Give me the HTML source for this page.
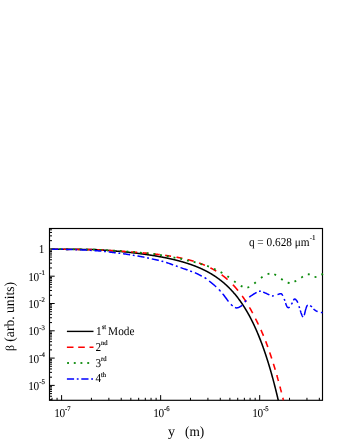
<!DOCTYPE html>
<html><head><meta charset="utf-8"><style>
html,body{margin:0;padding:0;background:#fff;}
svg{display:block;will-change:transform;text-rendering:geometricPrecision;font-family:"Liberation Serif",serif;font-size:12px;fill:#000;}
</style></head><body>
<svg width="340" height="440" viewBox="0 0 340 440">
<rect x="0" y="0" width="340" height="440" fill="#fff"/>
<rect x="49.50" y="228.50" width="273.00" height="171.80" fill="none" stroke="#000" stroke-width="1.15"/>
<g stroke="#000" stroke-width="1"><line x1="49.50" y1="399.67" x2="52.00" y2="399.67"/><line x1="49.50" y1="396.26" x2="52.00" y2="396.26"/><line x1="49.50" y1="393.62" x2="52.00" y2="393.62"/><line x1="49.50" y1="391.46" x2="52.00" y2="391.46"/><line x1="49.50" y1="389.63" x2="52.00" y2="389.63"/><line x1="49.50" y1="388.05" x2="52.00" y2="388.05"/><line x1="49.50" y1="386.65" x2="52.00" y2="386.65"/><line x1="49.50" y1="385.40" x2="54.70" y2="385.40"/><line x1="49.50" y1="377.18" x2="52.00" y2="377.18"/><line x1="49.50" y1="372.37" x2="52.00" y2="372.37"/><line x1="49.50" y1="368.96" x2="52.00" y2="368.96"/><line x1="49.50" y1="366.32" x2="52.00" y2="366.32"/><line x1="49.50" y1="364.16" x2="52.00" y2="364.16"/><line x1="49.50" y1="362.33" x2="52.00" y2="362.33"/><line x1="49.50" y1="360.75" x2="52.00" y2="360.75"/><line x1="49.50" y1="359.35" x2="52.00" y2="359.35"/><line x1="49.50" y1="358.10" x2="54.70" y2="358.10"/><line x1="49.50" y1="349.88" x2="52.00" y2="349.88"/><line x1="49.50" y1="345.07" x2="52.00" y2="345.07"/><line x1="49.50" y1="341.66" x2="52.00" y2="341.66"/><line x1="49.50" y1="339.02" x2="52.00" y2="339.02"/><line x1="49.50" y1="336.86" x2="52.00" y2="336.86"/><line x1="49.50" y1="335.03" x2="52.00" y2="335.03"/><line x1="49.50" y1="333.45" x2="52.00" y2="333.45"/><line x1="49.50" y1="332.05" x2="52.00" y2="332.05"/><line x1="49.50" y1="330.80" x2="54.70" y2="330.80"/><line x1="49.50" y1="322.58" x2="52.00" y2="322.58"/><line x1="49.50" y1="317.77" x2="52.00" y2="317.77"/><line x1="49.50" y1="314.36" x2="52.00" y2="314.36"/><line x1="49.50" y1="311.72" x2="52.00" y2="311.72"/><line x1="49.50" y1="309.56" x2="52.00" y2="309.56"/><line x1="49.50" y1="307.73" x2="52.00" y2="307.73"/><line x1="49.50" y1="306.15" x2="52.00" y2="306.15"/><line x1="49.50" y1="304.75" x2="52.00" y2="304.75"/><line x1="49.50" y1="303.50" x2="54.70" y2="303.50"/><line x1="49.50" y1="295.28" x2="52.00" y2="295.28"/><line x1="49.50" y1="290.47" x2="52.00" y2="290.47"/><line x1="49.50" y1="287.06" x2="52.00" y2="287.06"/><line x1="49.50" y1="284.42" x2="52.00" y2="284.42"/><line x1="49.50" y1="282.26" x2="52.00" y2="282.26"/><line x1="49.50" y1="280.43" x2="52.00" y2="280.43"/><line x1="49.50" y1="278.85" x2="52.00" y2="278.85"/><line x1="49.50" y1="277.45" x2="52.00" y2="277.45"/><line x1="49.50" y1="276.20" x2="54.70" y2="276.20"/><line x1="49.50" y1="267.98" x2="52.00" y2="267.98"/><line x1="49.50" y1="263.17" x2="52.00" y2="263.17"/><line x1="49.50" y1="259.76" x2="52.00" y2="259.76"/><line x1="49.50" y1="257.12" x2="52.00" y2="257.12"/><line x1="49.50" y1="254.96" x2="52.00" y2="254.96"/><line x1="49.50" y1="253.13" x2="52.00" y2="253.13"/><line x1="49.50" y1="251.55" x2="52.00" y2="251.55"/><line x1="49.50" y1="250.15" x2="52.00" y2="250.15"/><line x1="49.50" y1="248.90" x2="54.70" y2="248.90"/><line x1="49.50" y1="240.68" x2="52.00" y2="240.68"/><line x1="49.50" y1="235.87" x2="52.00" y2="235.87"/><line x1="49.50" y1="232.46" x2="52.00" y2="232.46"/><line x1="49.50" y1="229.82" x2="52.00" y2="229.82"/><line x1="52.00" y1="400.30" x2="52.00" y2="397.80"/><line x1="57.07" y1="400.30" x2="57.07" y2="397.80"/><line x1="61.60" y1="400.30" x2="61.60" y2="395.10"/><line x1="91.42" y1="400.30" x2="91.42" y2="397.80"/><line x1="108.86" y1="400.30" x2="108.86" y2="397.80"/><line x1="121.23" y1="400.30" x2="121.23" y2="397.80"/><line x1="130.83" y1="400.30" x2="130.83" y2="397.80"/><line x1="138.68" y1="400.30" x2="138.68" y2="397.80"/><line x1="145.31" y1="400.30" x2="145.31" y2="397.80"/><line x1="151.05" y1="400.30" x2="151.05" y2="397.80"/><line x1="156.12" y1="400.30" x2="156.12" y2="397.80"/><line x1="160.65" y1="400.30" x2="160.65" y2="395.10"/><line x1="190.47" y1="400.30" x2="190.47" y2="397.80"/><line x1="207.91" y1="400.30" x2="207.91" y2="397.80"/><line x1="220.28" y1="400.30" x2="220.28" y2="397.80"/><line x1="229.88" y1="400.30" x2="229.88" y2="397.80"/><line x1="237.73" y1="400.30" x2="237.73" y2="397.80"/><line x1="244.36" y1="400.30" x2="244.36" y2="397.80"/><line x1="250.10" y1="400.30" x2="250.10" y2="397.80"/><line x1="255.17" y1="400.30" x2="255.17" y2="397.80"/><line x1="259.70" y1="400.30" x2="259.70" y2="395.10"/><line x1="289.52" y1="400.30" x2="289.52" y2="397.80"/><line x1="306.96" y1="400.30" x2="306.96" y2="397.80"/><line x1="319.33" y1="400.30" x2="319.33" y2="397.80"/></g>
<g fill="none" stroke-linecap="butt" stroke-linejoin="round">
<path d="M51.60,249.14 L51.65,249.14 L51.85,249.14 L52.05,249.14 L52.25,249.15 L52.45,249.15 L52.65,249.15 L52.85,249.15 L53.05,249.15 L53.25,249.15 L53.45,249.15 L53.65,249.15 L53.85,249.16 L54.05,249.16 L54.25,249.16 L54.45,249.16 L54.65,249.16 L54.85,249.16 L55.05,249.16 L55.25,249.16 L55.45,249.17 L55.65,249.17 L55.85,249.17 L56.05,249.17 L56.25,249.17 L56.45,249.17 L56.65,249.17 L56.85,249.17 L57.05,249.18 L57.25,249.18 L57.45,249.18 L57.65,249.18 L57.85,249.18 L58.05,249.18 L58.25,249.18 L58.45,249.18 L58.65,249.19 L58.85,249.19 L59.05,249.19 L59.25,249.19 L59.45,249.19 L59.65,249.19 L59.85,249.19 L60.05,249.19 L60.25,249.20 L60.45,249.20 L60.65,249.20 L60.85,249.20 L61.05,249.20 L61.25,249.20 L61.45,249.20 L61.65,249.21 L61.85,249.21 L62.05,249.21 L62.25,249.21 L62.45,249.21 L62.65,249.21 L62.85,249.21 L63.05,249.22 L63.25,249.22 L63.45,249.22 L63.65,249.22 L63.85,249.22 L64.05,249.22 L64.25,249.23 L64.45,249.23 L64.65,249.23 L64.85,249.23 L65.05,249.23 L65.25,249.23 L65.45,249.23 L65.65,249.24 L65.85,249.24 L66.05,249.24 L66.25,249.24 L66.45,249.24 L66.65,249.24 L66.85,249.25 L67.05,249.25 L67.25,249.25 L67.45,249.25 L67.65,249.25 L67.85,249.25 L68.05,249.26 L68.25,249.26 L68.45,249.26 L68.65,249.26 L68.85,249.26 L69.05,249.26 L69.25,249.27 L69.45,249.27 L69.65,249.27 L69.85,249.27 L70.05,249.27 L70.25,249.27 L70.45,249.28 L70.65,249.28 L70.85,249.28 L71.05,249.28 L71.25,249.28 L71.45,249.28 L71.65,249.29 L71.85,249.29 L72.05,249.29 L72.25,249.29 L72.45,249.29 L72.65,249.30 L72.85,249.30 L73.05,249.30 L73.25,249.30 L73.45,249.30 L73.65,249.30 L73.85,249.31 L74.05,249.31 L74.25,249.31 L74.45,249.31 L74.65,249.31 L74.85,249.32 L75.05,249.32 L75.25,249.32 L75.45,249.32 L75.65,249.32 L75.85,249.33 L76.05,249.33 L76.25,249.33 L76.45,249.33 L76.65,249.33 L76.85,249.34 L77.05,249.34 L77.25,249.34 L77.45,249.34 L77.65,249.34 L77.85,249.35 L78.05,249.35 L78.25,249.35 L78.45,249.35 L78.65,249.35 L78.85,249.36 L79.05,249.36 L79.25,249.36 L79.45,249.36 L79.65,249.37 L79.85,249.37 L80.05,249.37 L80.25,249.37 L80.45,249.37 L80.65,249.38 L80.85,249.38 L81.05,249.38 L81.25,249.38 L81.45,249.39 L81.65,249.39 L81.85,249.39 L82.05,249.39 L82.25,249.39 L82.45,249.40 L82.65,249.40 L82.85,249.40 L83.05,249.40 L83.25,249.41 L83.45,249.41 L83.65,249.41 L83.85,249.41 L84.05,249.42 L84.25,249.42 L84.45,249.42 L84.65,249.42 L84.85,249.42 L85.05,249.43 L85.25,249.43 L85.45,249.43 L85.65,249.43 L85.85,249.44 L86.05,249.44 L86.25,249.44 L86.45,249.44 L86.65,249.45 L86.85,249.45 L87.05,249.45 L87.25,249.46 L87.45,249.46 L87.65,249.46 L87.85,249.46 L88.05,249.47 L88.25,249.47 L88.45,249.47 L88.65,249.47 L88.85,249.48 L89.05,249.48 L89.25,249.48 L89.45,249.48 L89.65,249.49 L89.85,249.49 L90.05,249.49 L90.25,249.50 L90.45,249.50 L90.65,249.50 L90.85,249.50 L91.05,249.51 L91.25,249.51 L91.45,249.51 L91.65,249.51 L91.85,249.52 L92.05,249.52 L92.25,249.52 L92.45,249.53 L92.65,249.53 L92.85,249.53 L93.05,249.54 L93.25,249.54 L93.45,249.54 L93.65,249.54 L93.85,249.55 L94.05,249.55 L94.25,249.55 L94.45,249.56 L94.65,249.56 L94.85,249.56 L95.05,249.57 L95.25,249.58 L95.45,249.59 L95.65,249.60 L95.85,249.62 L96.05,249.63 L96.25,249.64 L96.45,249.65 L96.65,249.66 L96.85,249.68 L97.05,249.69 L97.25,249.70 L97.45,249.71 L97.65,249.73 L97.85,249.74 L98.05,249.75 L98.25,249.76 L98.45,249.78 L98.65,249.79 L98.85,249.80 L99.05,249.81 L99.25,249.83 L99.45,249.84 L99.65,249.85 L99.85,249.87 L100.05,249.88 L100.25,249.89 L100.45,249.91 L100.65,249.92 L100.85,249.93 L101.05,249.95 L101.25,249.96 L101.45,249.97 L101.65,249.99 L101.85,250.00 L102.05,250.01 L102.25,250.03 L102.45,250.04 L102.65,250.05 L102.85,250.07 L103.05,250.08 L103.25,250.09 L103.45,250.11 L103.65,250.12 L103.85,250.14 L104.05,250.15 L104.25,250.16 L104.45,250.18 L104.65,250.19 L104.85,250.21 L105.05,250.22 L105.25,250.24 L105.45,250.25 L105.65,250.26 L105.85,250.28 L106.05,250.29 L106.25,250.31 L106.45,250.32 L106.65,250.34 L106.85,250.35 L107.05,250.37 L107.25,250.38 L107.45,250.40 L107.65,250.41 L107.85,250.43 L108.05,250.44 L108.25,250.46 L108.45,250.47 L108.65,250.49 L108.85,250.50 L109.05,250.52 L109.25,250.53 L109.45,250.55 L109.65,250.56 L109.85,250.58 L110.05,250.60 L110.25,250.61 L110.45,250.63 L110.65,250.64 L110.85,250.66 L111.05,250.67 L111.25,250.69 L111.45,250.71 L111.65,250.72 L111.85,250.74 L112.05,250.75 L112.25,250.77 L112.45,250.79 L112.65,250.80 L112.85,250.82 L113.05,250.84 L113.25,250.85 L113.45,250.87 L113.65,250.89 L113.85,250.90 L114.05,250.92 L114.25,250.94 L114.45,250.95 L114.65,250.97 L114.85,250.99 L115.05,251.00 L115.25,251.02 L115.45,251.04 L115.65,251.06 L115.85,251.07 L116.05,251.09 L116.25,251.11 L116.45,251.12 L116.65,251.14 L116.85,251.16 L117.05,251.18 L117.25,251.19 L117.45,251.21 L117.65,251.23 L117.85,251.25 L118.05,251.27 L118.25,251.28 L118.45,251.30 L118.65,251.32 L118.85,251.34 L119.05,251.36 L119.25,251.37 L119.45,251.39 L119.65,251.41 L119.85,251.43 L120.05,251.45 L120.25,251.47 L120.45,251.49 L120.65,251.50 L120.85,251.52 L121.05,251.54 L121.25,251.56 L121.45,251.58 L121.65,251.60 L121.85,251.62 L122.05,251.64 L122.25,251.66 L122.45,251.68 L122.65,251.70 L122.85,251.71 L123.05,251.73 L123.25,251.75 L123.45,251.77 L123.65,251.79 L123.85,251.81 L124.05,251.83 L124.25,251.85 L124.45,251.87 L124.65,251.89 L124.85,251.91 L125.05,251.93 L125.25,251.95 L125.45,251.97 L125.65,251.99 L125.85,252.01 L126.05,252.03 L126.25,252.05 L126.45,252.08 L126.65,252.10 L126.85,252.12 L127.05,252.14 L127.25,252.16 L127.45,252.18 L127.65,252.20 L127.85,252.22 L128.05,252.24 L128.25,252.26 L128.45,252.28 L128.65,252.31 L128.85,252.33 L129.05,252.35 L129.25,252.37 L129.45,252.39 L129.65,252.41 L129.85,252.44 L130.05,252.46 L130.25,252.48 L130.45,252.50 L130.65,252.52 L130.85,252.55 L131.05,252.57 L131.25,252.59 L131.45,252.61 L131.65,252.64 L131.85,252.66 L132.05,252.68 L132.25,252.70 L132.45,252.73 L132.65,252.75 L132.85,252.77 L133.05,252.79 L133.25,252.82 L133.45,252.84 L133.65,252.86 L133.85,252.89 L134.05,252.91 L134.25,252.93 L134.45,252.96 L134.65,252.98 L134.85,253.00 L135.05,253.03 L135.25,253.05 L135.45,253.08 L135.65,253.10 L135.85,253.12 L136.05,253.15 L136.25,253.17 L136.45,253.20 L136.65,253.22 L136.85,253.25 L137.05,253.27 L137.25,253.29 L137.45,253.32 L137.65,253.34 L137.85,253.37 L138.05,253.39 L138.25,253.42 L138.45,253.44 L138.65,253.47 L138.85,253.49 L139.05,253.52 L139.25,253.55 L139.45,253.57 L139.65,253.60 L139.85,253.62 L140.05,253.65 L140.25,253.67 L140.45,253.70 L140.65,253.73 L140.85,253.75 L141.05,253.78 L141.25,253.80 L141.45,253.83 L141.65,253.86 L141.85,253.88 L142.05,253.91 L142.25,253.94 L142.45,253.96 L142.65,253.99 L142.85,254.02 L143.05,254.04 L143.25,254.07 L143.45,254.10 L143.65,254.13 L143.85,254.15 L144.05,254.18 L144.25,254.21 L144.45,254.24 L144.65,254.26 L144.85,254.29 L145.05,254.32 L145.25,254.35 L145.45,254.38 L145.65,254.41 L145.85,254.43 L146.05,254.46 L146.25,254.49 L146.45,254.52 L146.65,254.55 L146.85,254.58 L147.05,254.61 L147.25,254.64 L147.45,254.66 L147.65,254.69 L147.85,254.72 L148.05,254.75 L148.25,254.78 L148.45,254.81 L148.65,254.84 L148.85,254.87 L149.05,254.90 L149.25,254.93 L149.45,254.96 L149.65,254.99 L149.85,255.02 L150.05,255.05 L150.25,255.08 L150.45,255.11 L150.65,255.15 L150.85,255.18 L151.05,255.21 L151.25,255.24 L151.45,255.27 L151.65,255.30 L151.85,255.33 L152.05,255.36 L152.25,255.40 L152.45,255.43 L152.65,255.46 L152.85,255.49 L153.05,255.52 L153.25,255.56 L153.45,255.59 L153.65,255.62 L153.85,255.65 L154.05,255.69 L154.25,255.72 L154.45,255.75 L154.65,255.79 L154.85,255.82 L155.05,255.85 L155.25,255.89 L155.45,255.92 L155.65,255.95 L155.85,255.99 L156.05,256.02 L156.25,256.05 L156.45,256.09 L156.65,256.12 L156.85,256.16 L157.05,256.19 L157.25,256.23 L157.45,256.26 L157.65,256.30 L157.85,256.33 L158.05,256.37 L158.25,256.40 L158.45,256.44 L158.65,256.47 L158.85,256.51 L159.05,256.54 L159.25,256.58 L159.45,256.62 L159.65,256.65 L159.85,256.69 L160.05,256.72 L160.25,256.76 L160.45,256.80 L160.65,256.83 L160.85,256.87 L161.05,256.91 L161.25,256.95 L161.45,256.98 L161.65,257.02 L161.85,257.06 L162.05,257.10 L162.25,257.13 L162.45,257.17 L162.65,257.21 L162.85,257.25 L163.05,257.29 L163.25,257.33 L163.45,257.37 L163.65,257.40 L163.85,257.44 L164.05,257.48 L164.25,257.52 L164.45,257.56 L164.65,257.60 L164.85,257.64 L165.05,257.68 L165.25,257.72 L165.45,257.76 L165.65,257.80 L165.85,257.84 L166.05,257.88 L166.25,257.92 L166.45,257.97 L166.65,258.01 L166.85,258.05 L167.05,258.09 L167.25,258.13 L167.45,258.17 L167.65,258.22 L167.85,258.26 L168.05,258.30 L168.25,258.34 L168.45,258.39 L168.65,258.43 L168.85,258.47 L169.05,258.52 L169.25,258.56 L169.45,258.60 L169.65,258.65 L169.85,258.69 L170.05,258.73 L170.25,258.78 L170.45,258.82 L170.65,258.87 L170.85,258.91 L171.05,258.96 L171.25,259.00 L171.45,259.05 L171.65,259.09 L171.85,259.14 L172.05,259.19 L172.25,259.23 L172.45,259.28 L172.65,259.32 L172.85,259.37 L173.05,259.42 L173.25,259.46 L173.45,259.51 L173.65,259.56 L173.85,259.61 L174.05,259.66 L174.25,259.70 L174.45,259.75 L174.65,259.80 L174.85,259.85 L175.05,259.90 L175.25,259.95 L175.45,260.00 L175.65,260.05 L175.85,260.10 L176.05,260.15 L176.25,260.20 L176.45,260.25 L176.65,260.30 L176.85,260.35 L177.05,260.40 L177.25,260.45 L177.45,260.50 L177.65,260.55 L177.85,260.60 L178.05,260.66 L178.25,260.71 L178.45,260.76 L178.65,260.81 L178.85,260.87 L179.05,260.92 L179.25,260.97 L179.45,261.03 L179.65,261.08 L179.85,261.14 L180.05,261.19 L180.25,261.24 L180.45,261.30 L180.65,261.35 L180.85,261.41 L181.05,261.47 L181.25,261.52 L181.45,261.58 L181.65,261.63 L181.85,261.69 L182.05,261.75 L182.25,261.80 L182.45,261.86 L182.65,261.92 L182.85,261.98 L183.05,262.04 L183.25,262.09 L183.45,262.15 L183.65,262.21 L183.85,262.27 L184.05,262.33 L184.25,262.39 L184.45,262.45 L184.65,262.51 L184.85,262.57 L185.05,262.63 L185.25,262.69 L185.45,262.75 L185.65,262.82 L185.85,262.88 L186.05,262.94 L186.25,263.00 L186.45,263.07 L186.65,263.13 L186.85,263.19 L187.05,263.26 L187.25,263.32 L187.45,263.38 L187.65,263.45 L187.85,263.51 L188.05,263.58 L188.25,263.64 L188.45,263.71 L188.65,263.78 L188.85,263.84 L189.05,263.91 L189.25,263.98 L189.45,264.04 L189.65,264.11 L189.85,264.18 L190.05,264.25 L190.25,264.32 L190.45,264.39 L190.65,264.46 L190.85,264.53 L191.05,264.60 L191.25,264.67 L191.45,264.74 L191.65,264.81 L191.85,264.88 L192.05,264.95 L192.25,265.02 L192.45,265.10 L192.65,265.17 L192.85,265.24 L193.05,265.32 L193.25,265.39 L193.45,265.46 L193.65,265.54 L193.85,265.61 L194.05,265.69 L194.25,265.77 L194.45,265.84 L194.65,265.92 L194.85,266.00 L195.05,266.07 L195.25,266.15 L195.45,266.23 L195.65,266.31 L195.85,266.39 L196.05,266.47 L196.25,266.55 L196.45,266.63 L196.65,266.71 L196.85,266.79 L197.05,266.87 L197.25,266.95 L197.45,267.03 L197.65,267.11 L197.85,267.20 L198.05,267.28 L198.25,267.37 L198.45,267.45 L198.65,267.53 L198.85,267.62 L199.05,267.71 L199.25,267.79 L199.45,267.88 L199.65,267.96 L199.85,268.05 L200.05,268.14 L200.25,268.23 L200.45,268.32 L200.65,268.41 L200.85,268.50 L201.05,268.59 L201.25,268.68 L201.45,268.77 L201.65,268.86 L201.85,268.95 L202.05,269.04 L202.25,269.14 L202.45,269.23 L202.65,269.33 L202.85,269.42 L203.05,269.52 L203.25,269.61 L203.45,269.71 L203.65,269.80 L203.85,269.90 L204.05,270.00 L204.25,270.10 L204.45,270.20 L204.65,270.29 L204.85,270.39 L205.05,270.49 L205.25,270.60 L205.45,270.70 L205.65,270.80 L205.85,270.90 L206.05,271.00 L206.25,271.11 L206.45,271.21 L206.65,271.32 L206.85,271.42 L207.05,271.53 L207.25,271.64 L207.45,271.74 L207.65,271.85 L207.85,271.96 L208.05,272.07 L208.25,272.18 L208.45,272.29 L208.65,272.40 L208.85,272.51 L209.05,272.62 L209.25,272.73 L209.45,272.85 L209.65,272.96 L209.85,273.07 L210.05,273.19 L210.25,273.31 L210.45,273.42 L210.65,273.54 L210.85,273.66 L211.05,273.77 L211.25,273.89 L211.45,274.01 L211.65,274.13 L211.85,274.25 L212.05,274.38 L212.25,274.50 L212.45,274.62 L212.65,274.75 L212.85,274.87 L213.05,274.99 L213.25,275.12 L213.45,275.25 L213.65,275.37 L213.85,275.50 L214.05,275.63 L214.25,275.76 L214.45,275.89 L214.65,276.02 L214.85,276.15 L215.05,276.29 L215.25,276.42 L215.45,276.55 L215.65,276.69 L215.85,276.82 L216.05,276.96 L216.25,277.10 L216.45,277.23 L216.65,277.37 L216.85,277.51 L217.05,277.65 L217.25,277.79 L217.45,277.94 L217.65,278.08 L217.85,278.22 L218.05,278.37 L218.25,278.51 L218.45,278.66 L218.65,278.80 L218.85,278.95 L219.05,279.10 L219.25,279.25 L219.45,279.40 L219.65,279.55 L219.85,279.70 L220.05,279.86 L220.25,280.01 L220.45,280.17 L220.65,280.32 L220.85,280.48 L221.05,280.64 L221.25,280.79 L221.45,280.95 L221.65,281.11 L221.85,281.27 L222.05,281.44 L222.25,281.60 L222.45,281.76 L222.65,281.93 L222.85,282.09 L223.05,282.26 L223.25,282.43 L223.45,282.60 L223.65,282.77 L223.85,282.94 L224.05,283.11 L224.25,283.28 L224.45,283.46 L224.65,283.63 L224.85,283.81 L225.05,283.99 L225.25,284.17 L225.45,284.34 L225.65,284.52 L225.85,284.71 L226.05,284.89 L226.25,285.07 L226.45,285.26 L226.65,285.44 L226.85,285.63 L227.05,285.82 L227.25,286.01 L227.45,286.20 L227.65,286.39 L227.85,286.58 L228.05,286.77 L228.25,286.97 L228.45,287.17 L228.65,287.36 L228.85,287.56 L229.05,287.76 L229.25,287.96 L229.45,288.16 L229.65,288.37 L229.85,288.57 L230.05,288.78 L230.25,288.98 L230.45,289.19 L230.65,289.40 L230.85,289.61 L231.05,289.82 L231.25,290.04 L231.45,290.25 L231.65,290.47 L231.85,290.68 L232.05,290.90 L232.25,291.12 L232.45,291.34 L232.65,291.56 L232.85,291.79 L233.05,292.01 L233.25,292.24 L233.45,292.47 L233.65,292.70 L233.85,292.93 L234.05,293.16 L234.25,293.39 L234.45,293.63 L234.65,293.86 L234.85,294.10 L235.05,294.34 L235.25,294.58 L235.45,294.82 L235.65,295.06 L235.85,295.31 L236.05,295.55 L236.25,295.80 L236.45,296.05 L236.65,296.30 L236.85,296.56 L237.05,296.81 L237.25,297.06 L237.45,297.32 L237.65,297.58 L237.85,297.84 L238.05,298.10 L238.25,298.36 L238.45,298.63 L238.65,298.90 L238.85,299.16 L239.05,299.43 L239.25,299.70 L239.45,299.98 L239.65,300.25 L239.85,300.53 L240.05,300.81 L240.25,301.09 L240.45,301.37 L240.65,301.65 L240.85,301.94 L241.05,302.22 L241.25,302.51 L241.45,302.80 L241.65,303.09 L241.85,303.39 L242.05,303.68 L242.25,303.98 L242.45,304.28 L242.65,304.58 L242.85,304.88 L243.05,305.19 L243.25,305.49 L243.45,305.80 L243.65,306.11 L243.85,306.42 L244.05,306.74 L244.25,307.05 L244.45,307.37 L244.65,307.69 L244.85,308.01 L245.05,308.33 L245.25,308.66 L245.45,308.99 L245.65,309.32 L245.85,309.65 L246.05,309.98 L246.25,310.32 L246.45,310.65 L246.65,310.99 L246.85,311.33 L247.05,311.68 L247.25,312.02 L247.45,312.37 L247.65,312.72 L247.85,313.07 L248.05,313.43 L248.25,313.78 L248.45,314.14 L248.65,314.50 L248.85,314.87 L249.05,315.23 L249.25,315.60 L249.45,315.97 L249.65,316.34 L249.85,316.71 L250.05,317.09 L250.25,317.47 L250.45,317.85 L250.65,318.23 L250.85,318.62 L251.05,319.01 L251.25,319.40 L251.45,319.79 L251.65,320.18 L251.85,320.58 L252.05,320.98 L252.25,321.38 L252.45,321.79 L252.65,322.19 L252.85,322.60 L253.05,323.01 L253.25,323.43 L253.45,323.85 L253.65,324.27 L253.85,324.69 L254.05,325.11 L254.25,325.54 L254.45,325.97 L254.65,326.40 L254.85,326.84 L255.05,327.27 L255.25,327.71 L255.45,328.16 L255.65,328.60 L255.85,329.05 L256.05,329.50 L256.25,329.95 L256.45,330.41 L256.65,330.87 L256.85,331.33 L257.05,331.79 L257.25,332.26 L257.45,332.73 L257.65,333.20 L257.85,333.68 L258.05,334.16 L258.25,334.64 L258.45,335.12 L258.65,335.61 L258.85,336.10 L259.05,336.59 L259.25,337.09 L259.45,337.59 L259.65,338.09 L259.85,338.59 L260.05,339.10 L260.25,339.61 L260.45,340.13 L260.65,340.64 L260.85,341.16 L261.05,341.69 L261.25,342.21 L261.45,342.74 L261.65,343.27 L261.85,343.81 L262.05,344.35 L262.25,344.89 L262.45,345.43 L262.65,345.98 L262.85,346.53 L263.05,347.09 L263.25,347.65 L263.45,348.21 L263.65,348.77 L263.85,349.34 L264.05,349.91 L264.25,350.49 L264.45,351.07 L264.65,351.65 L264.85,352.23 L265.05,352.82 L265.25,353.41 L265.45,354.01 L265.65,354.61 L265.85,355.21 L266.05,355.81 L266.25,356.42 L266.45,357.04 L266.65,357.65 L266.85,358.27 L267.05,358.90 L267.25,359.52 L267.45,360.16 L267.65,360.79 L267.85,361.43 L268.05,362.07 L268.25,362.72 L268.45,363.37 L268.65,364.02 L268.85,364.68 L269.05,365.34 L269.25,366.00 L269.45,366.67 L269.65,367.34 L269.85,368.02 L270.05,368.70 L270.25,369.38 L270.45,370.07 L270.65,370.76 L270.85,371.46 L271.05,372.16 L271.25,372.86 L271.45,373.57 L271.65,374.28 L271.85,375.00 L272.05,375.72 L272.25,376.45 L272.45,377.17 L272.65,377.91 L272.85,378.64 L273.05,379.39 L273.25,380.13 L273.45,380.88 L273.65,381.63 L273.85,382.39 L274.05,383.16 L274.25,383.92 L274.45,384.69 L274.65,385.47 L274.85,386.25 L275.05,387.03 L275.25,387.82 L275.45,388.62 L275.65,389.41 L275.85,390.22 L276.05,391.02 L276.25,391.83 L276.45,392.65 L276.65,393.47 L276.85,394.30 L277.05,395.13 L277.25,395.96 L277.45,396.80 L277.65,397.64 L277.85,398.49 L278.05,399.34 L278.25,400.20 L278.27,400.30" stroke="#000" stroke-width="1.55"/>
<path d="M52.15,249.20 L52.20,249.20 L52.40,249.21 L52.60,249.21 L52.80,249.21 L53.00,249.21 L53.20,249.21 L53.40,249.21 L53.60,249.21 L53.80,249.22 L54.00,249.22 L54.20,249.22 L54.40,249.22 L54.60,249.22 L54.80,249.22 L55.00,249.22 L55.20,249.23 L55.40,249.23 L55.60,249.23 L55.80,249.23 L56.00,249.23 L56.20,249.23 L56.40,249.24 L56.60,249.24 L56.80,249.24 L57.00,249.24 L57.20,249.24 L57.40,249.24 L57.60,249.25 L57.80,249.25 L58.00,249.25 L58.05,249.25 M63.45,249.30 L63.50,249.30 L63.70,249.30 L63.90,249.30 L64.10,249.30 L64.30,249.30 L64.50,249.31 L64.70,249.31 L64.90,249.31 L65.10,249.31 L65.30,249.31 L65.50,249.31 L65.70,249.32 L65.90,249.32 L66.10,249.32 L66.30,249.32 L66.50,249.32 L66.70,249.33 L66.90,249.33 L67.10,249.33 L67.30,249.33 L67.50,249.33 L67.70,249.34 L67.90,249.34 L68.10,249.34 L68.30,249.34 L68.50,249.34 L68.70,249.35 L68.90,249.35 L69.10,249.35 L69.30,249.35 L69.35,249.35 M74.75,249.41 L74.80,249.41 L75.00,249.42 L75.20,249.42 L75.40,249.42 L75.60,249.42 L75.80,249.43 L76.00,249.43 L76.20,249.43 L76.40,249.43 L76.60,249.44 L76.80,249.44 L77.00,249.44 L77.20,249.44 L77.40,249.45 L77.60,249.45 L77.80,249.45 L78.00,249.45 L78.20,249.46 L78.40,249.46 L78.60,249.46 L78.80,249.47 L79.00,249.47 L79.20,249.47 L79.40,249.47 L79.60,249.48 L79.80,249.48 L80.00,249.48 L80.20,249.48 L80.40,249.49 L80.60,249.49 L80.65,249.49 M86.05,249.57 L86.10,249.57 L86.30,249.57 L86.50,249.58 L86.70,249.58 L86.90,249.58 L87.10,249.59 L87.30,249.59 L87.50,249.59 L87.70,249.59 L87.90,249.60 L88.10,249.60 L88.30,249.60 L88.50,249.61 L88.70,249.61 L88.90,249.61 L89.10,249.62 L89.30,249.62 L89.50,249.62 L89.70,249.63 L89.90,249.63 L90.10,249.63 L90.30,249.64 L90.50,249.64 L90.70,249.65 L90.90,249.65 L91.10,249.65 L91.30,249.66 L91.50,249.66 L91.70,249.66 L91.90,249.67 L91.95,249.67 M97.35,249.83 L97.40,249.84 L97.60,249.85 L97.80,249.86 L98.00,249.86 L98.20,249.87 L98.40,249.88 L98.60,249.89 L98.80,249.90 L99.00,249.91 L99.20,249.92 L99.40,249.93 L99.60,249.94 L99.80,249.95 L100.00,249.96 L100.20,249.97 L100.40,249.98 L100.60,249.99 L100.80,250.00 L101.00,250.01 L101.20,250.02 L101.40,250.03 L101.60,250.04 L101.80,250.05 L102.00,250.06 L102.20,250.07 L102.40,250.08 L102.60,250.09 L102.80,250.10 L103.00,250.11 L103.20,250.12 L103.25,250.13 M108.65,250.42 L108.70,250.42 L108.90,250.43 L109.10,250.44 L109.30,250.45 L109.50,250.47 L109.70,250.48 L109.90,250.49 L110.10,250.50 L110.30,250.51 L110.50,250.52 L110.70,250.53 L110.90,250.55 L111.10,250.56 L111.30,250.57 L111.50,250.58 L111.70,250.59 L111.90,250.60 L112.10,250.62 L112.30,250.63 L112.50,250.64 L112.70,250.65 L112.90,250.66 L113.10,250.67 L113.30,250.69 L113.50,250.70 L113.70,250.71 L113.90,250.72 L114.10,250.73 L114.30,250.75 L114.50,250.76 L114.55,250.76 M119.95,251.10 L120.00,251.10 L120.20,251.12 L120.40,251.13 L120.60,251.14 L120.80,251.16 L121.00,251.17 L121.20,251.18 L121.40,251.20 L121.60,251.21 L121.80,251.22 L122.00,251.24 L122.20,251.25 L122.40,251.26 L122.60,251.28 L122.80,251.29 L123.00,251.30 L123.20,251.32 L123.40,251.33 L123.60,251.34 L123.80,251.36 L124.00,251.37 L124.20,251.39 L124.40,251.40 L124.60,251.41 L124.80,251.43 L125.00,251.44 L125.20,251.46 L125.40,251.47 L125.60,251.48 L125.80,251.50 L125.85,251.50 M131.25,251.90 L131.30,251.90 L131.50,251.92 L131.70,251.93 L131.90,251.95 L132.10,251.96 L132.30,251.98 L132.50,251.99 L132.70,252.01 L132.90,252.02 L133.10,252.04 L133.30,252.05 L133.50,252.07 L133.70,252.09 L133.90,252.10 L134.10,252.12 L134.30,252.13 L134.50,252.15 L134.70,252.17 L134.90,252.18 L135.10,252.20 L135.30,252.21 L135.50,252.23 L135.70,252.25 L135.90,252.26 L136.10,252.28 L136.30,252.30 L136.50,252.31 L136.70,252.33 L136.90,252.34 L137.10,252.36 L137.15,252.37 M142.55,252.83 L142.60,252.84 L142.80,252.86 L143.00,252.87 L143.20,252.89 L143.40,252.91 L143.60,252.93 L143.80,252.95 L144.00,252.97 L144.20,252.98 L144.40,253.00 L144.60,253.02 L144.80,253.04 L145.00,253.06 L145.20,253.08 L145.40,253.10 L145.60,253.12 L145.80,253.13 L146.00,253.15 L146.20,253.17 L146.40,253.19 L146.60,253.21 L146.80,253.23 L147.00,253.25 L147.20,253.27 L147.40,253.29 L147.60,253.31 L147.80,253.33 L148.00,253.35 L148.20,253.37 L148.40,253.39 L148.45,253.39 M153.85,253.96 L153.90,253.97 L154.10,253.99 L154.30,254.01 L154.50,254.03 L154.70,254.05 L154.90,254.08 L155.10,254.10 L155.30,254.12 L155.50,254.14 L155.70,254.17 L155.90,254.19 L156.10,254.21 L156.30,254.24 L156.50,254.26 L156.70,254.28 L156.90,254.31 L157.10,254.33 L157.30,254.35 L157.50,254.38 L157.70,254.40 L157.90,254.42 L158.10,254.45 L158.30,254.47 L158.50,254.50 L158.70,254.52 L158.90,254.55 L159.10,254.57 L159.30,254.59 L159.50,254.62 L159.70,254.64 L159.75,254.65 M165.15,255.36 L165.20,255.37 L165.40,255.40 L165.60,255.42 L165.80,255.45 L166.00,255.48 L166.20,255.51 L166.40,255.54 L166.60,255.57 L166.80,255.59 L167.00,255.62 L167.20,255.65 L167.40,255.68 L167.60,255.71 L167.80,255.74 L168.00,255.77 L168.20,255.80 L168.40,255.83 L168.60,255.86 L168.80,255.89 L169.00,255.92 L169.20,255.95 L169.40,255.98 L169.60,256.01 L169.80,256.05 L170.00,256.08 L170.20,256.11 L170.40,256.14 L170.60,256.17 L170.80,256.20 L171.00,256.23 L171.05,256.24 M176.45,257.17 L176.50,257.18 L176.70,257.22 L176.90,257.25 L177.10,257.29 L177.30,257.33 L177.50,257.37 L177.70,257.40 L177.90,257.44 L178.10,257.48 L178.30,257.52 L178.50,257.56 L178.70,257.60 L178.90,257.64 L179.10,257.68 L179.30,257.72 L179.50,257.76 L179.70,257.80 L179.90,257.84 L180.10,257.88 L180.30,257.92 L180.50,257.96 L180.70,258.00 L180.90,258.04 L181.10,258.08 L181.30,258.12 L181.50,258.17 L181.70,258.21 L181.90,258.25 L182.10,258.29 L182.30,258.34 L182.35,258.35 M187.75,259.61 L187.80,259.62 L188.00,259.67 L188.20,259.72 L188.40,259.77 L188.60,259.83 L188.80,259.88 L189.00,259.93 L189.20,259.98 L189.40,260.04 L189.60,260.09 L189.80,260.14 L190.00,260.20 L190.20,260.25 L190.40,260.30 L190.60,260.36 L190.80,260.41 L191.00,260.47 L191.20,260.52 L191.40,260.58 L191.60,260.64 L191.80,260.69 L192.00,260.75 L192.20,260.81 L192.40,260.87 L192.60,260.92 L192.80,260.98 L193.00,261.04 L193.20,261.10 L193.40,261.16 L193.60,261.22 L193.65,261.24 M199.05,263.00 L199.10,263.02 L199.30,263.09 L199.50,263.16 L199.70,263.24 L199.90,263.31 L200.10,263.38 L200.30,263.46 L200.50,263.53 L200.70,263.60 L200.90,263.68 L201.10,263.76 L201.30,263.83 L201.50,263.91 L201.70,263.98 L201.90,264.06 L202.10,264.14 L202.30,264.22 L202.50,264.30 L202.70,264.38 L202.90,264.46 L203.10,264.54 L203.30,264.62 L203.50,264.70 L203.70,264.78 L203.90,264.87 L204.10,264.95 L204.30,265.03 L204.50,265.12 L204.70,265.20 L204.90,265.29 L204.95,265.31 M210.35,267.83 L210.40,267.86 L210.60,267.96 L210.80,268.06 L211.00,268.17 L211.20,268.27 L211.40,268.38 L211.60,268.48 L211.80,268.59 L212.00,268.70 L212.20,268.80 L212.40,268.91 L212.60,269.02 L212.80,269.13 L213.00,269.24 L213.20,269.35 L213.40,269.47 L213.60,269.58 L213.80,269.69 L214.00,269.81 L214.20,269.92 L214.40,270.04 L214.60,270.15 L214.80,270.27 L215.00,270.39 L215.20,270.51 L215.40,270.63 L215.60,270.75 L215.80,270.87 L216.00,270.99 L216.20,271.11 L216.25,271.14 M221.65,274.78 L221.70,274.82 L221.90,274.96 L222.10,275.11 L222.30,275.26 L222.50,275.41 L222.70,275.56 L222.90,275.71 L223.10,275.87 L223.30,276.02 L223.50,276.18 L223.70,276.33 L223.90,276.49 L224.10,276.65 L224.30,276.81 L224.50,276.97 L224.70,277.13 L224.90,277.29 L225.10,277.46 L225.30,277.62 L225.50,277.79 L225.70,277.95 L225.90,278.12 L226.10,278.29 L226.30,278.46 L226.50,278.63 L226.70,278.80 L226.90,278.97 L227.10,279.15 L227.30,279.32 L227.50,279.50 L227.55,279.54 M232.91,284.72 L232.95,284.76 L233.10,284.92 L233.25,285.08 L233.40,285.24 L233.55,285.40 L233.70,285.56 L233.85,285.72 L234.00,285.88 L234.15,286.04 L234.30,286.21 L234.45,286.37 L234.60,286.54 L234.75,286.71 L234.90,286.87 L235.05,287.04 L235.20,287.21 L235.35,287.38 L235.50,287.55 L235.65,287.72 L235.80,287.89 L235.95,288.06 L236.10,288.24 L236.25,288.41 L236.40,288.59 L236.55,288.76 L236.70,288.94 L236.85,289.12 L237.00,289.29 L237.15,289.47 L237.30,289.65 L237.45,289.83 L237.60,290.02 L237.75,290.20 L237.90,290.38 L238.05,290.57 L238.09,290.62 M242.21,296.02 L242.25,296.08 L242.40,296.29 L242.55,296.50 L242.70,296.71 L242.85,296.92 L243.00,297.14 L243.15,297.35 L243.30,297.57 L243.45,297.79 L243.60,298.00 L243.75,298.22 L243.90,298.44 L244.05,298.66 L244.20,298.89 L244.35,299.11 L244.50,299.33 L244.65,299.56 L244.80,299.78 L244.95,300.01 L245.10,300.24 L245.25,300.47 L245.40,300.70 L245.55,300.93 L245.70,301.16 L245.85,301.39 L246.00,301.62 L246.15,301.86 L246.19,301.92 M249.46,307.32 L249.50,307.38 L249.60,307.56 L249.70,307.73 L249.80,307.91 L249.90,308.08 L250.00,308.26 L250.10,308.43 L250.20,308.61 L250.30,308.78 L250.40,308.96 L250.50,309.14 L250.60,309.32 L250.70,309.50 L250.80,309.68 L250.90,309.86 L251.00,310.04 L251.10,310.22 L251.20,310.40 L251.30,310.58 L251.40,310.76 L251.50,310.95 L251.60,311.13 L251.70,311.31 L251.80,311.50 L251.90,311.68 L252.00,311.87 L252.10,312.05 L252.20,312.24 L252.30,312.43 L252.40,312.62 L252.50,312.80 L252.60,312.99 L252.70,313.18 L252.72,313.22 M255.48,318.62 L255.52,318.70 L255.62,318.91 L255.73,319.11 L255.84,319.32 L255.94,319.53 L256.05,319.73 L256.15,319.94 L256.26,320.15 L256.36,320.36 L256.47,320.57 L256.58,320.78 L256.68,320.99 L256.79,321.20 L256.89,321.42 L257.00,321.63 L257.11,321.84 L257.21,322.05 L257.32,322.27 L257.42,322.48 L257.53,322.70 L257.64,322.92 L257.74,323.13 L257.85,323.35 L257.95,323.57 L258.06,323.79 L258.17,324.01 L258.27,324.23 L258.38,324.45 L258.41,324.52 M260.93,329.92 L260.98,330.03 L261.09,330.27 L261.19,330.50 L261.30,330.74 L261.41,330.98 L261.51,331.22 L261.62,331.45 L261.73,331.69 L261.83,331.93 L261.94,332.17 L262.05,332.42 L262.15,332.66 L262.26,332.90 L262.37,333.14 L262.47,333.39 L262.58,333.63 L262.69,333.88 L262.79,334.12 L262.90,334.37 L263.01,334.62 L263.11,334.86 L263.22,335.11 L263.33,335.36 L263.43,335.61 L263.52,335.82 M265.68,341.22 L265.70,341.27 L265.79,341.53 L265.89,341.80 L265.99,342.06 L266.09,342.33 L266.19,342.60 L266.29,342.87 L266.39,343.13 L266.49,343.40 L266.59,343.67 L266.69,343.94 L266.79,344.22 L266.89,344.49 L266.99,344.76 L267.09,345.03 L267.19,345.31 L267.29,345.58 L267.39,345.86 L267.49,346.13 L267.59,346.41 L267.69,346.69 L267.79,346.97 L267.84,347.12 M269.73,352.52 L269.73,352.53 L269.83,352.82 L269.93,353.11 L270.03,353.41 L270.13,353.70 L270.23,354.00 L270.33,354.29 L270.43,354.59 L270.53,354.89 L270.62,355.18 L270.72,355.48 L270.82,355.78 L270.92,356.08 L271.02,356.38 L271.12,356.68 L271.22,356.98 L271.32,357.29 L271.42,357.59 L271.52,357.90 L271.62,358.20 L271.69,358.42 M273.42,363.82 L273.46,363.97 L273.51,364.13 L273.56,364.29 L273.61,364.45 L273.66,364.61 L273.71,364.77 L273.76,364.93 L273.81,365.09 L273.86,365.25 L273.91,365.41 L273.96,365.57 L274.01,365.73 L274.06,365.89 L274.11,366.06 L274.16,366.22 L274.21,366.38 L274.26,366.54 L274.31,366.70 L274.36,366.87 L274.41,367.03 L274.46,367.19 L274.51,367.35 L274.56,367.52 L274.61,367.68 L274.66,367.84 L274.71,368.01 L274.76,368.17 L274.81,368.34 L274.86,368.50 L274.90,368.67 L274.95,368.83 L275.00,368.99 L275.05,369.16 L275.10,369.32 L275.15,369.49 L275.20,369.66 L275.22,369.72 M276.80,375.12 L276.83,375.22 L276.88,375.39 L276.92,375.56 L276.97,375.74 L277.02,375.91 L277.07,376.08 L277.12,376.25 L277.17,376.43 L277.22,376.60 L277.27,376.77 L277.31,376.95 L277.36,377.12 L277.41,377.29 L277.46,377.47 L277.51,377.64 L277.56,377.81 L277.61,377.99 L277.66,378.16 L277.71,378.34 L277.75,378.51 L277.80,378.69 L277.85,378.86 L277.90,379.04 L277.95,379.22 L278.00,379.39 L278.05,379.57 L278.10,379.74 L278.14,379.92 L278.19,380.10 L278.24,380.27 L278.29,380.45 L278.34,380.63 L278.39,380.81 L278.44,380.98 L278.45,381.02 M279.90,386.42 L279.95,386.58 L280.00,386.76 L280.04,386.95 L280.09,387.13 L280.14,387.32 L280.19,387.50 L280.24,387.68 L280.29,387.87 L280.34,388.05 L280.38,388.24 L280.43,388.42 L280.48,388.61 L280.53,388.79 L280.58,388.98 L280.63,389.17 L280.68,389.35 L280.73,389.54 L280.77,389.72 L280.82,389.91 L280.87,390.10 L280.92,390.28 L280.97,390.47 L281.02,390.66 L281.07,390.85 L281.12,391.03 L281.16,391.22 L281.21,391.41 L281.26,391.60 L281.31,391.79 L281.36,391.98 L281.41,392.16 L281.45,392.32 M282.82,397.72 L282.87,397.91 L282.91,398.11 L282.96,398.30 L283.01,398.50 L283.06,398.69 L283.11,398.89 L283.16,399.08 L283.21,399.28 L283.26,399.47 L283.30,399.67 L283.35,399.87 L283.40,400.06 L283.45,400.26 L283.46,400.30" stroke="#f00" stroke-width="1.6"/>
<g fill="#0a8a0a" stroke="none"><rect x="-0.95" y="-0.9" width="1.9" height="1.8" transform="translate(53.55,249.01) rotate(1.5)"/><rect x="-0.95" y="-0.9" width="1.9" height="1.8" transform="translate(60.27,249.16) rotate(1.0)"/><rect x="-0.95" y="-0.9" width="1.9" height="1.8" transform="translate(66.98,249.25) rotate(0.7)"/><rect x="-0.95" y="-0.9" width="1.9" height="1.8" transform="translate(73.70,249.33) rotate(0.6)"/><rect x="-0.95" y="-0.9" width="1.9" height="1.8" transform="translate(80.42,249.41) rotate(0.8)"/><rect x="-0.95" y="-0.9" width="1.9" height="1.8" transform="translate(87.13,249.51) rotate(1.1)"/><rect x="-0.95" y="-0.9" width="1.9" height="1.8" transform="translate(93.85,249.68) rotate(1.7)"/><rect x="-0.95" y="-0.9" width="1.9" height="1.8" transform="translate(100.57,249.92) rotate(2.5)"/><rect x="-0.95" y="-0.9" width="1.9" height="1.8" transform="translate(107.28,250.26) rotate(3.0)"/><rect x="-0.95" y="-0.9" width="1.9" height="1.8" transform="translate(114.00,250.61) rotate(3.0)"/><rect x="-0.95" y="-0.9" width="1.9" height="1.8" transform="translate(120.72,251.00) rotate(3.7)"/><rect x="-0.95" y="-0.9" width="1.9" height="1.8" transform="translate(127.43,251.48) rotate(4.6)"/><rect x="-0.95" y="-0.9" width="1.9" height="1.8" transform="translate(134.15,252.06) rotate(5.2)"/><rect x="-0.95" y="-0.9" width="1.9" height="1.8" transform="translate(140.87,252.69) rotate(5.4)"/><rect x="-0.95" y="-0.9" width="1.9" height="1.8" transform="translate(147.58,253.28) rotate(4.6)"/><rect x="-0.95" y="-0.9" width="1.9" height="1.8" transform="translate(154.30,253.92) rotate(7.7)"/><rect x="-0.95" y="-0.9" width="1.9" height="1.8" transform="translate(161.02,255.10) rotate(10.0)"/><rect x="-0.95" y="-0.9" width="1.9" height="1.8" transform="translate(167.73,256.23) rotate(10.8)"/><rect x="-0.95" y="-0.9" width="1.9" height="1.8" transform="translate(174.45,257.63) rotate(10.7)"/><rect x="-0.95" y="-0.9" width="1.9" height="1.8" transform="translate(181.17,258.86) rotate(12.5)"/><rect x="-0.95" y="-0.9" width="1.9" height="1.8" transform="translate(187.88,260.60) rotate(14.4)"/><rect x="-0.95" y="-0.9" width="1.9" height="1.8" transform="translate(194.60,262.22) rotate(14.4)"/><rect x="-0.95" y="-0.9" width="1.9" height="1.8" transform="translate(201.32,264.13) rotate(16.2)"/><rect x="-0.95" y="-0.9" width="1.9" height="1.8" transform="translate(208.03,266.24) rotate(20.5)"/><rect x="-0.95" y="-0.9" width="1.9" height="1.8" transform="translate(214.75,269.23) rotate(25.8)"/><rect x="-0.95" y="-0.9" width="1.9" height="1.8" transform="translate(221.47,272.62) rotate(28.7)"/><rect x="-0.95" y="-0.9" width="1.9" height="1.8" transform="translate(228.18,276.78) rotate(35.0)"/><rect x="-0.95" y="-0.9" width="1.9" height="1.8" transform="translate(234.90,281.82) rotate(37.3)"/><rect x="-0.95" y="-0.9" width="1.9" height="1.8" transform="translate(241.62,286.26) rotate(26.1)"/><rect x="-0.95" y="-0.9" width="1.9" height="1.8" transform="translate(248.33,287.27) rotate(-16.0)"/><rect x="-0.95" y="-0.9" width="1.9" height="1.8" transform="translate(255.05,282.85) rotate(-40.6)"/><rect x="-0.95" y="-0.9" width="1.9" height="1.8" transform="translate(261.77,277.37) rotate(-35.9)"/><rect x="-0.95" y="-0.9" width="1.9" height="1.8" transform="translate(268.48,273.91) rotate(-13.5)"/><rect x="-0.95" y="-0.9" width="1.9" height="1.8" transform="translate(275.20,274.70) rotate(25.5)"/><rect x="-0.95" y="-0.9" width="1.9" height="1.8" transform="translate(281.92,279.41) rotate(37.2)"/><rect x="-0.95" y="-0.9" width="1.9" height="1.8" transform="translate(288.63,282.88) rotate(8.2)"/><rect x="-0.95" y="-0.9" width="1.9" height="1.8" transform="translate(295.35,281.19) rotate(-27.5)"/><rect x="-0.95" y="-0.9" width="1.9" height="1.8" transform="translate(302.07,277.12) rotate(-33.0)"/><rect x="-0.95" y="-0.9" width="1.9" height="1.8" transform="translate(308.78,274.36) rotate(5.5)"/><rect x="-0.95" y="-0.9" width="1.9" height="1.8" transform="translate(315.50,276.99) rotate(5.2)"/><rect x="-0.95" y="-0.9" width="1.9" height="1.8" transform="translate(322.22,274.23) rotate(-20.3)"/></g>
<path d="M52.11,249.15 L53.12,249.17 L54.21,249.19 L55.39,249.21 L56.63,249.24 L57.94,249.26 L58.35,249.27 M61.05,249.32 L62.14,249.35 L62.85,249.36 M65.70,249.42 L66.57,249.44 L68.06,249.47 L69.54,249.50 L71.00,249.54 L72.44,249.57 L72.70,249.58 M75.40,249.65 L76.50,249.68 L77.20,249.71 M80.05,249.80 L81.04,249.84 L82.06,249.88 L83.06,249.93 L84.05,249.97 L85.01,250.02 L85.96,250.07 L86.89,250.12 L87.05,250.13 M89.75,250.28 L90.43,250.32 L91.27,250.38 L91.55,250.39 M94.40,250.59 L94.46,250.59 L95.21,250.64 L95.94,250.70 L96.66,250.75 L97.36,250.80 L98.05,250.85 L98.72,250.90 L99.37,250.95 L100.00,251.00 L100.60,251.05 L101.16,251.09 L101.40,251.11 M104.10,251.37 L104.20,251.38 L104.55,251.41 L104.89,251.45 L105.22,251.49 L105.55,251.53 L105.88,251.58 L105.90,251.58 M108.75,251.95 L108.97,251.97 L109.47,252.04 L110.00,252.10 L110.56,252.17 L111.15,252.24 L111.77,252.31 L112.40,252.39 L113.05,252.47 L113.71,252.55 L114.40,252.63 L115.09,252.71 L115.75,252.80 M118.45,253.13 L118.70,253.16 L119.44,253.25 L120.17,253.35 L120.25,253.36 M123.10,253.73 L123.79,253.82 L124.49,253.92 L125.17,254.01 L125.85,254.11 L126.50,254.20 L127.15,254.29 L127.79,254.39 L128.44,254.49 L129.08,254.58 L129.72,254.68 L130.10,254.74 M132.80,255.17 L132.89,255.19 L133.51,255.29 L134.12,255.39 L134.60,255.47 M137.45,255.96 L137.70,256.01 L138.27,256.11 L138.84,256.21 L139.39,256.31 L139.94,256.41 L140.47,256.50 L141.00,256.60 L141.51,256.69 L142.01,256.79 L142.49,256.88 L142.95,256.97 L143.40,257.05 L143.84,257.14 L144.27,257.23 L144.45,257.26 M147.15,257.83 L147.54,257.91 L147.95,258.00 L148.36,258.09 L148.78,258.18 L148.95,258.22 M151.80,258.87 L152.00,258.91 L152.50,259.03 L153.01,259.14 L153.53,259.25 L154.05,259.37 L154.57,259.48 L155.11,259.60 L155.64,259.72 L156.19,259.84 L156.73,259.96 L157.28,260.09 L157.84,260.21 L158.40,260.34 L158.80,260.44 M161.50,261.11 L161.81,261.19 L162.38,261.34 L162.96,261.50 L163.30,261.59 M166.15,262.45 L166.46,262.55 L167.06,262.75 L167.66,262.95 L168.26,263.15 L168.87,263.36 L169.47,263.58 L170.09,263.79 L170.70,264.01 L171.31,264.24 L171.93,264.46 L172.55,264.69 L173.15,264.91 M175.85,265.91 L176.29,266.07 L176.91,266.30 L177.53,266.53 L177.65,266.57 M180.50,267.59 L180.67,267.65 L181.33,267.88 L182.00,268.12 L182.68,268.35 L183.36,268.59 L184.05,268.84 L184.74,269.08 L185.43,269.32 L186.12,269.56 L186.81,269.80 L187.49,270.04 L187.50,270.05 M190.20,271.00 L190.75,271.20 L191.36,271.42 L191.94,271.63 L192.00,271.66 M194.85,272.74 L194.93,272.77 L195.32,272.93 L195.69,273.08 L196.04,273.23 L196.36,273.37 L196.67,273.51 L196.95,273.64 L197.22,273.77 L197.47,273.89 L197.71,274.01 L197.93,274.12 L198.14,274.23 L198.35,274.34 L198.55,274.45 L198.74,274.55 L198.93,274.66 L199.11,274.76 L199.30,274.86 L199.48,274.96 L199.67,275.07 L199.87,275.17 L200.07,275.28 L200.28,275.39 L200.50,275.50 L200.72,275.61 L200.94,275.72 L201.16,275.82 L201.37,275.92 L201.57,276.02 L201.78,276.12 L201.85,276.15 M204.55,277.53 L204.69,277.62 L204.89,277.74 L205.10,277.87 L205.30,278.00 L205.51,278.14 L205.72,278.28 L205.93,278.43 L206.14,278.58 L206.35,278.74 M209.20,281.02 L209.37,281.16 L209.58,281.33 L209.79,281.50 L210.00,281.67 L210.20,281.84 L210.40,282.00 L210.60,282.16 L210.80,282.32 L210.99,282.47 L211.19,282.63 L211.38,282.78 L211.57,282.93 L211.76,283.09 L211.95,283.24 L212.14,283.39 L212.32,283.54 L212.51,283.69 L212.69,283.84 L212.88,283.99 L213.06,284.14 L213.25,284.29 L213.43,284.44 L213.61,284.59 L213.80,284.75 L213.98,284.90 L214.16,285.06 L214.35,285.22 L214.53,285.38 L214.71,285.54 L214.90,285.70 L215.09,285.86 L215.27,286.03 L215.46,286.20 L215.64,286.36 L215.83,286.53 L216.01,286.70 L216.20,286.87 L216.20,286.87 M218.89,289.47 L218.94,289.52 L219.12,289.71 L219.30,289.90 L219.48,290.09 L219.66,290.28 L219.83,290.47 L220.01,290.66 L220.18,290.86 L220.36,291.05 L220.53,291.25 L220.56,291.27 M222.60,293.68 L222.62,293.70 L222.79,293.92 L222.97,294.13 L223.14,294.35 L223.32,294.58 L223.50,294.80 L223.68,295.03 L223.86,295.26 L224.05,295.50 L224.23,295.74 L224.42,295.99 L224.60,296.24 L224.79,296.50 L224.98,296.75 L225.17,297.01 L225.35,297.27 L225.54,297.53 L225.73,297.79 L225.92,298.05 L226.11,298.30 L226.29,298.56 L226.48,298.81 L226.66,299.07 L226.84,299.31 L227.03,299.56 L227.20,299.80 L227.38,300.03 L227.56,300.26 L227.73,300.48 L227.90,300.70 L228.07,300.91 L228.23,301.12 L228.39,301.32 L228.50,301.47 M230.90,304.37 L230.91,304.38 L231.08,304.54 L231.24,304.70 L231.42,304.85 L231.60,305.00 L231.79,305.15 L231.97,305.31 L232.17,305.47 L232.36,305.63 L232.56,305.80 L232.70,305.91 M235.00,307.47 L235.11,307.52 L235.34,307.62 L235.56,307.70 L235.79,307.77 L236.01,307.82 L236.24,307.87 L236.47,307.89 L236.70,307.90 L236.93,307.89 L237.17,307.86 L237.42,307.82 L237.67,307.76 L237.93,307.69 L238.19,307.60 L238.45,307.51 L238.72,307.40 L238.99,307.28 L239.25,307.15 L239.52,307.01 L239.79,306.87 L240.05,306.72 L240.31,306.57 L240.57,306.41 L240.83,306.25 L241.07,306.09 L241.32,305.92 L241.55,305.76 L241.78,305.60 L242.00,305.45 L242.21,305.29 L242.30,305.23 M244.84,302.10 L244.90,302.02 L245.01,301.86 L245.12,301.69 L245.24,301.53 L245.37,301.36 L245.50,301.20 L245.64,301.04 L245.77,300.88 L245.90,300.72 L246.03,300.55 L246.16,300.39 L246.23,300.30 M249.20,297.20 L249.44,297.01 L249.70,296.82 L249.98,296.61 L250.27,296.40 L250.57,296.19 L250.89,295.97 L251.21,295.75 L251.54,295.52 L251.88,295.30 L252.23,295.07 L252.58,294.84 L252.93,294.62 L253.27,294.40 L253.62,294.18 L253.96,293.96 L254.30,293.76 L254.63,293.55 L254.95,293.36 L255.26,293.17 L255.56,293.00 L255.85,292.83 L256.12,292.67 L256.37,292.53 L256.60,292.40 M259.00,291.38 L259.06,291.37 L259.17,291.35 L259.28,291.34 L259.40,291.33 L259.52,291.32 L259.64,291.31 L259.77,291.31 L259.90,291.30 L260.03,291.30 L260.16,291.29 L260.29,291.29 L260.41,291.30 L260.53,291.31 L260.65,291.32 L260.76,291.33 L260.80,291.34 M263.20,292.10 L263.41,292.18 L263.65,292.27 L263.89,292.38 L264.15,292.48 L264.42,292.60 L264.70,292.72 L264.99,292.85 L265.29,292.99 L265.59,293.12 L265.89,293.26 L266.20,293.40 L266.51,293.54 L266.82,293.69 L267.13,293.83 L267.44,293.97 L267.74,294.10 L268.03,294.24 L268.32,294.37 L268.60,294.49 L268.86,294.61 L269.12,294.72 L269.36,294.82 L269.40,294.84 M272.00,295.85 L272.01,295.85 L272.12,295.87 L272.24,295.88 L272.35,295.89 L272.48,295.90 L272.61,295.90 L272.75,295.90 L272.90,295.90 L273.06,295.89 L273.22,295.87 L273.38,295.85 L273.55,295.82 L273.73,295.78 L273.80,295.77 M277.50,294.61 L277.54,294.60 L277.87,294.49 L278.21,294.37 L278.55,294.25 L278.89,294.13 L279.21,294.02 L279.53,293.92 L279.84,293.83 L280.13,293.76 L280.41,293.71 L280.66,293.69 L280.90,293.70 L281.11,293.74 L281.30,293.79 L281.46,293.87 L281.60,293.96 L281.73,294.08 L281.86,294.21 L281.97,294.36 L282.09,294.53 L282.20,294.71 L282.32,294.92 L282.45,295.15 L282.60,295.40 L282.76,295.67 L282.80,295.75 M284.25,299.00 L284.25,299.01 L284.34,299.23 L284.43,299.45 L284.51,299.68 L284.60,299.90 L284.69,300.13 L284.78,300.38 L284.87,300.64 L284.92,300.80 M285.60,302.97 L285.69,303.25 L285.87,303.84 L286.06,304.40 L286.25,304.93 L286.43,305.42 L286.62,305.84 L286.80,306.20 L286.98,306.50 L287.16,306.77 L287.33,307.00 L287.51,307.20 L287.68,307.36 L287.86,307.49 L288.03,307.59 L288.21,307.64 L288.40,307.66 L288.59,307.65 L288.79,307.59 L289.00,307.50 L289.22,307.35 L289.45,307.14 L289.60,306.98 M291.34,304.40 L291.43,304.25 L291.55,304.06 L291.67,303.86 L291.79,303.68 L291.90,303.50 L292.01,303.32 L292.12,303.13 L292.23,302.92 L292.34,302.71 L292.39,302.60 M293.40,300.41 L293.47,300.28 L293.67,299.91 L293.87,299.59 L294.08,299.34 L294.29,299.16 L294.51,299.06 L294.73,299.03 L294.96,299.06 L295.19,299.15 L295.42,299.28 L295.65,299.45 L295.88,299.67 L296.12,299.91 L296.34,300.19 L296.57,300.49 L296.79,300.80 L297.00,301.13 L297.20,301.47 L297.40,301.85 L297.59,302.27 L297.78,302.72 L297.80,302.78 M299.00,306.30 L299.03,306.39 L299.12,306.66 L299.21,306.93 L299.30,307.20 L299.39,307.47 L299.48,307.75 L299.58,308.04 L299.60,308.10 M300.30,310.39 L300.34,310.52 L300.43,310.83 L300.53,311.14 L300.62,311.45 L300.71,311.75 L300.80,312.05 L300.89,312.34 L300.99,312.63 L301.07,312.90 L301.16,313.16 L301.25,313.42 L301.33,313.66 L301.42,313.89 L301.50,314.10 L301.58,314.30 L301.66,314.50 L301.74,314.70 L301.82,314.89 L301.90,315.07 L301.97,315.25 L302.05,315.43 L302.12,315.59 L302.20,315.75 L302.27,315.90 L302.34,316.05 L302.41,316.19 L302.48,316.32 L302.55,316.44 L302.62,316.55 L302.69,316.65 L302.76,316.74 L302.82,316.83 L302.89,316.90 L302.95,316.96 L303.00,317.00 M304.20,315.24 L304.24,315.11 L304.34,314.77 L304.46,314.42 L304.57,314.01 L304.69,313.55 L304.81,313.05 L304.93,312.53 L305.06,311.98 L305.18,311.43 L305.31,310.88 L305.44,310.34 L305.57,309.82 L305.70,309.34 L305.83,308.90 L305.97,308.51 L306.09,308.13 L306.21,307.75 L306.33,307.40 L306.45,307.05 L306.57,306.73 L306.70,306.43 L306.83,306.15 L306.97,305.90 L307.13,305.68 L307.30,305.50 L307.50,305.36 L307.71,305.25 L307.80,305.22 M310.10,305.69 L310.14,305.71 L310.29,305.79 L310.44,305.87 L310.58,305.95 L310.73,306.03 L310.86,306.11 L311.00,306.20 L311.13,306.29 L311.26,306.39 L311.39,306.50 L311.52,306.61 L311.64,306.73 L311.76,306.86 L311.88,306.99 M313.50,308.93 L313.60,309.03 L313.73,309.16 L313.86,309.28 L314.00,309.40 L314.14,309.51 L314.27,309.62 L314.41,309.73 L314.55,309.84 L314.69,309.94 L314.82,310.05 L314.96,310.15 L315.10,310.25 L315.24,310.35 L315.39,310.44 L315.53,310.54 L315.68,310.63 L315.82,310.72 L315.97,310.81 L316.12,310.90 L316.27,310.99 L316.43,311.07 L316.59,311.15 L316.75,311.23 L316.91,311.31 L317.08,311.38 L317.25,311.46 L317.42,311.53 L317.60,311.60 M320.90,312.39 L321.03,312.42 L321.25,312.46 L321.47,312.49 L321.67,312.53 L321.86,312.56 L322.04,312.59 L322.20,312.62 L322.35,312.65 L322.49,312.68 L322.60,312.70" stroke="#00f" stroke-width="1.5"/>
</g>
<g><text transform="translate(44.35,252.90) scale(0.940,1)" text-anchor="end" font-size="12">1</text><text transform="translate(44.80,280.60) scale(0.940,1)" text-anchor="end" font-size="12"><tspan letter-spacing="-0.5">1</tspan>0<tspan dy="-5.7" font-size="7.2" stroke="#000" stroke-width="0.15">-1</tspan></text><text transform="translate(44.80,307.90) scale(0.940,1)" text-anchor="end" font-size="12"><tspan letter-spacing="-0.5">1</tspan>0<tspan dy="-5.7" font-size="7.2" stroke="#000" stroke-width="0.15">-2</tspan></text><text transform="translate(44.80,335.20) scale(0.940,1)" text-anchor="end" font-size="12"><tspan letter-spacing="-0.5">1</tspan>0<tspan dy="-5.7" font-size="7.2" stroke="#000" stroke-width="0.15">-3</tspan></text><text transform="translate(44.80,362.50) scale(0.940,1)" text-anchor="end" font-size="12"><tspan letter-spacing="-0.5">1</tspan>0<tspan dy="-5.7" font-size="7.2" stroke="#000" stroke-width="0.15">-4</tspan></text><text transform="translate(44.80,389.80) scale(0.940,1)" text-anchor="end" font-size="12"><tspan letter-spacing="-0.5">1</tspan>0<tspan dy="-5.7" font-size="7.2" stroke="#000" stroke-width="0.15">-5</tspan></text><text transform="translate(62.40,416.80) scale(0.940,1)" text-anchor="middle" font-size="12"><tspan letter-spacing="-0.5">1</tspan>0<tspan dy="-5.7" font-size="7.0" stroke="#000" stroke-width="0.15">-7</tspan></text><text transform="translate(161.45,416.80) scale(0.940,1)" text-anchor="middle" font-size="12"><tspan letter-spacing="-0.5">1</tspan>0<tspan dy="-5.7" font-size="7.0" stroke="#000" stroke-width="0.15">-6</tspan></text><text transform="translate(260.50,416.80) scale(0.940,1)" text-anchor="middle" font-size="12"><tspan letter-spacing="-0.5">1</tspan>0<tspan dy="-5.7" font-size="7.0" stroke="#000" stroke-width="0.15">-5</tspan></text></g>
<text transform="translate(248.90,246.40) scale(0.941,1)" text-anchor="start" font-size="12">q = 0.628 μm<tspan dy="-6.3" font-size="7.4" stroke="#000" stroke-width="0.15">-1</tspan></text>
<text transform="translate(14.4,351.0) rotate(-90) scale(0.972,1)" text-anchor="start" font-size="14"><tspan font-size="12">β</tspan> (arb. units)</text>
<text x="167.9" y="436.3" font-size="14">y</text><text transform="translate(185.0,436.3) scale(0.95,1)" font-size="14">(m)</text>
<g fill="none" stroke-width="1.5">
<line x1="66.9" y1="331.4" x2="93.5" y2="331.4" stroke="#000" stroke-width="1.4"/>
<line x1="66.9" y1="347.3" x2="93.5" y2="347.3" stroke="#f00" stroke-dasharray="6.6,4.7"/>
<line x1="66.9" y1="379" x2="93.5" y2="379" stroke="#00f" stroke-dasharray="7.2,2.7,1.8,2.7"/>
</g>
<g fill="#0a8a0a"><rect x="67.10" y="362.1" width="1.9" height="1.8"/><rect x="73.80" y="362.1" width="1.9" height="1.8"/><rect x="80.45" y="362.1" width="1.9" height="1.8"/><rect x="87.25" y="362.1" width="1.9" height="1.8"/></g>
<g><text transform="translate(96.10,334.80) scale(0.940,1)" text-anchor="start" font-size="12">1<tspan dy="-5.8" font-size="7.0" stroke="#000" stroke-width="0.15">st</tspan><tspan dy="5.8" dx="-0.9" font-size="12" stroke="none"> Mode</tspan></text><text transform="translate(95.40,350.60) scale(0.940,1)" text-anchor="start" font-size="12">2<tspan dy="-5.8" font-size="7.0" stroke="#000" stroke-width="0.15">nd</tspan></text><text transform="translate(95.40,366.50) scale(0.940,1)" text-anchor="start" font-size="12">3<tspan dy="-5.8" font-size="7.0" stroke="#000" stroke-width="0.15">rd</tspan></text><text transform="translate(95.40,382.40) scale(0.940,1)" text-anchor="start" font-size="12">4<tspan dy="-5.8" font-size="7.0" stroke="#000" stroke-width="0.15">th</tspan></text></g>
</svg>
</body></html>
